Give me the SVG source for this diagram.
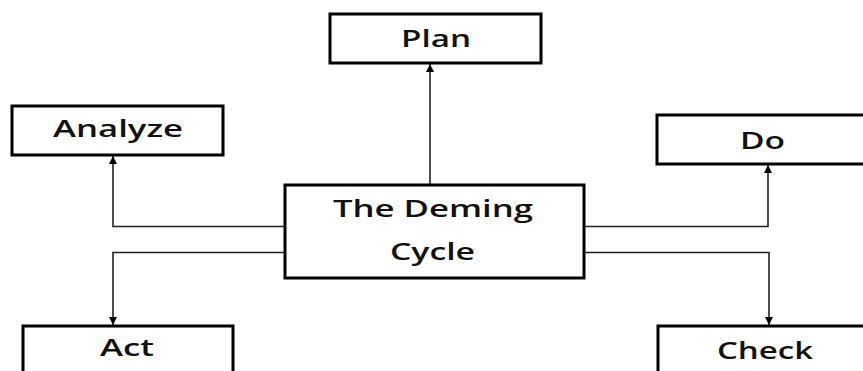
<svg xmlns="http://www.w3.org/2000/svg" width="863" height="371" viewBox="0 0 863 371">
<style>
.box{fill:#fff;stroke:#000;stroke-width:3}
.lbl{font-family:"Open Sans","DejaVu Sans","Liberation Sans",sans-serif;font-weight:600;font-size:24px;fill:#111;text-anchor:middle}
.con{fill:none;stroke:#222;stroke-width:1.6}
</style>
<defs>
<marker id="ah" viewBox="0 0 10 10" refX="10" refY="5" markerWidth="8" markerHeight="8" markerUnits="userSpaceOnUse" orient="auto">
<path d="M0,0 L10,5 L0,10 Z" fill="#000"/>
</marker>
</defs>
<g id="connectors">
<path class="con" d="M430,185 L430,64" marker-end="url(#ah)"/>
<path class="con" d="M286,226.5 L113,226.5 L113,156" marker-end="url(#ah)"/>
<path class="con" d="M583,226.5 L768,226.5 L768,165" marker-end="url(#ah)"/>
<path class="con" d="M286,252.5 L113,252.5 L113,325" marker-end="url(#ah)"/>
<path class="con" d="M583,252.5 L769,252.5 L769,325" marker-end="url(#ah)"/>
</g>
<g id="plan">
<rect class="box" x="330" y="14" width="211" height="49"/>
<text class="lbl" x="436" y="47" textLength="70" lengthAdjust="spacingAndGlyphs">Plan</text>
</g>
<g id="analyze">
<rect class="box" x="12" y="106" width="211" height="49"/>
<text class="lbl" x="118" y="137" textLength="130" lengthAdjust="spacingAndGlyphs">Analyze</text>
</g>
<g id="do">
<rect class="box" x="657" y="115" width="210" height="49"/>
<text class="lbl" x="762.5" y="149" textLength="45" lengthAdjust="spacingAndGlyphs">Do</text>
</g>
<g id="center">
<rect class="box" x="285" y="185" width="299" height="93"/>
<text class="lbl" x="433" y="217" textLength="200" lengthAdjust="spacingAndGlyphs">The Deming</text>
<text class="lbl" x="432.5" y="260" textLength="85" lengthAdjust="spacingAndGlyphs">Cycle</text>
</g>
<g id="act">
<rect class="box" x="23" y="326" width="210" height="60"/>
<text class="lbl" x="127" y="356" textLength="54" lengthAdjust="spacingAndGlyphs">Act</text>
</g>
<g id="check">
<rect class="box" x="658" y="326" width="210" height="60"/>
<text class="lbl" x="765" y="359" textLength="96" lengthAdjust="spacingAndGlyphs">Check</text>
</g>
</svg>
